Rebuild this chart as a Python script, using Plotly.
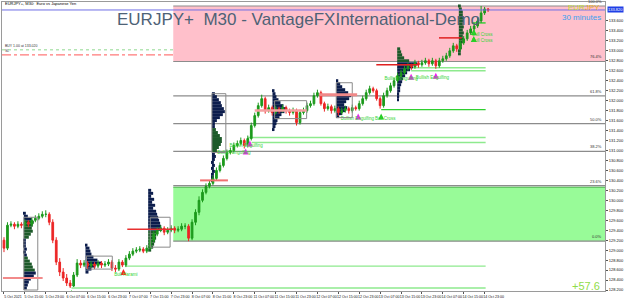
import plotly.graph_objects as go

# ---------------- data ----------------
bar_idx = list(range(140))
opens = [129.20, 129.04, 129.50, 129.52, 129.48, 129.52, 129.50, 129.56, 129.52, 129.60,
         129.64, 129.68, 129.72, 129.72, 129.56, 129.20, 128.76, 128.56, 128.44, 128.34,
         128.28, 128.50, 128.74, 128.70, 128.74, 128.68, 128.72, 128.68, 128.74, 128.70,
         128.72, 128.76, 128.64, 128.62, 128.76, 128.70, 128.84, 128.92, 128.98, 129.00,
         129.02, 128.98, 129.04, 129.20, 129.32, 129.40, 129.44, 129.36, 129.40, 129.44,
         129.40, 129.42, 129.48, 129.48, 129.24, 129.56, 129.76, 130.00, 130.16, 130.28,
         130.34, 130.44, 130.60, 130.70, 130.84, 130.96, 131.00, 131.10, 131.14, 131.20,
         131.10, 131.24, 131.50, 131.70, 131.90, 132.04, 131.80, 131.86, 131.76, 131.84,
         131.80, 131.86, 131.80, 131.76, 131.80, 131.56, 131.76, 131.80, 131.90, 131.94,
         132.10, 132.16, 131.94, 131.84, 131.88, 131.80, 131.84, 131.76, 131.80, 131.84,
         131.80, 131.86, 131.84, 131.94, 132.04, 132.16, 132.24, 132.20, 132.04, 131.90,
         132.10, 132.20, 132.30, 132.40, 132.50, 132.56, 132.64, 132.70, 132.68, 132.76,
         132.72, 132.76, 132.80, 132.74, 132.80, 132.70, 132.80, 132.84, 132.90, 133.00,
         133.10, 133.04, 133.16, 133.24, 133.36, 133.44, 133.50, 133.60, 133.76, 133.84]
highs = [129.26, 129.56, 129.58, 129.56, 129.58, 129.56, 129.62, 129.60, 129.66, 129.70,
         129.74, 129.78, 129.80, 129.76, 129.62, 129.26, 128.84, 128.64, 128.52, 128.40,
         128.56, 128.82, 128.80, 128.80, 128.78, 128.78, 128.76, 128.80, 128.78, 128.78,
         128.82, 128.80, 128.70, 128.82, 128.80, 128.90, 128.98, 129.04, 129.06, 129.08,
         129.06, 129.10, 129.26, 129.38, 129.46, 129.50, 129.48, 129.46, 129.50, 129.48,
         129.48, 129.54, 129.54, 129.52, 129.62, 129.82, 130.08, 130.22, 130.34, 130.40,
         130.50, 130.66, 130.76, 130.90, 131.02, 131.06, 131.16, 131.20, 131.26, 131.24,
         131.30, 131.56, 131.76, 131.96, 132.12, 132.08, 131.92, 131.90, 131.90, 131.88,
         131.92, 131.90, 131.84, 131.86, 131.84, 131.82, 131.86, 131.96, 132.00, 132.16,
         132.22, 132.20, 131.98, 131.94, 131.92, 131.90, 131.88, 131.86, 131.90, 131.88,
         131.92, 131.90, 132.00, 132.10, 132.22, 132.30, 132.28, 132.24, 132.08, 132.16,
         132.26, 132.36, 132.46, 132.56, 132.62, 132.70, 132.76, 132.74, 132.82, 132.80,
         132.82, 132.86, 132.84, 132.86, 132.84, 132.86, 132.90, 132.96, 133.06, 133.16,
         133.14, 133.22, 133.30, 133.42, 133.50, 133.56, 133.66, 133.90, 133.88, 133.86]
lows = [128.96, 129.00, 129.46, 129.42, 129.44, 129.44, 129.46, 129.46, 129.48, 129.56,
        129.60, 129.64, 129.66, 129.50, 129.14, 128.70, 128.48, 128.38, 128.28, 128.24,
        128.26, 128.46, 128.64, 128.66, 128.62, 128.64, 128.62, 128.64, 128.64, 128.66,
        128.68, 128.58, 128.56, 128.58, 128.66, 128.66, 128.80, 128.88, 128.94, 128.96,
        128.94, 128.94, 129.00, 129.16, 129.28, 129.36, 129.30, 129.32, 129.36, 129.34,
        129.36, 129.38, 129.42, 129.18, 129.20, 129.50, 129.70, 129.96, 130.12, 130.24,
        130.30, 130.40, 130.56, 130.66, 130.80, 130.92, 130.96, 131.06, 131.10, 131.04,
        131.06, 131.20, 131.46, 131.66, 131.86, 131.74, 131.76, 131.70, 131.72, 131.74,
        131.76, 131.74, 131.70, 131.72, 131.50, 131.52, 131.72, 131.76, 131.86, 131.90,
        132.06, 131.90, 131.78, 131.80, 131.74, 131.76, 131.70, 131.72, 131.76, 131.74,
        131.76, 131.80, 131.80, 131.90, 132.00, 132.12, 132.16, 132.00, 131.84, 131.86,
        132.06, 132.16, 132.26, 132.36, 132.46, 132.52, 132.60, 132.62, 132.64, 132.66,
        132.68, 132.72, 132.68, 132.70, 132.64, 132.66, 132.76, 132.80, 132.86, 132.96,
        132.98, 133.00, 133.12, 133.20, 133.32, 133.40, 133.46, 133.56, 133.72, 133.78]
closes = [129.04, 129.50, 129.52, 129.48, 129.52, 129.50, 129.56, 129.52, 129.60, 129.64,
          129.68, 129.72, 129.72, 129.56, 129.20, 128.76, 128.56, 128.44, 128.34, 128.28,
          128.50, 128.74, 128.70, 128.74, 128.68, 128.72, 128.68, 128.74, 128.70, 128.72,
          128.76, 128.64, 128.62, 128.76, 128.70, 128.84, 128.92, 128.98, 129.00, 129.02,
          128.98, 129.04, 129.20, 129.32, 129.40, 129.44, 129.36, 129.40, 129.44, 129.40,
          129.42, 129.48, 129.48, 129.24, 129.56, 129.76, 130.00, 130.16, 130.28, 130.34,
          130.44, 130.60, 130.70, 130.84, 130.96, 131.00, 131.10, 131.14, 131.20, 131.10,
          131.24, 131.50, 131.70, 131.90, 132.04, 131.80, 131.86, 131.76, 131.84, 131.80,
          131.86, 131.80, 131.76, 131.80, 131.56, 131.76, 131.80, 131.90, 131.94, 132.10,
          132.16, 131.94, 131.84, 131.88, 131.80, 131.84, 131.76, 131.80, 131.84, 131.80,
          131.86, 131.84, 131.94, 132.04, 132.16, 132.24, 132.20, 132.04, 131.90, 132.10,
          132.20, 132.30, 132.40, 132.50, 132.56, 132.64, 132.70, 132.68, 132.76, 132.72,
          132.76, 132.80, 132.74, 132.80, 132.70, 132.80, 132.84, 132.90, 133.00, 133.10,
          133.04, 133.16, 133.24, 133.36, 133.44, 133.50, 133.60, 133.76, 133.84, 133.82]

time_tick_idx = [0, 6, 12, 18, 24, 30, 36, 42, 48, 54, 60, 66, 72, 78, 84, 90, 96, 102,
                 108, 114, 120, 126, 132, 138]
time_tick_text = ["5 Oct 2021", "5 Oct 15:00", "5 Oct 23:00", "6 Oct 07:00", "6 Oct 15:00",
                  "6 Oct 23:00", "7 Oct 07:00", "7 Oct 15:00", "7 Oct 23:00", "8 Oct 07:00",
                  "8 Oct 15:00", "8 Oct 23:00", "11 Oct 07:00", "11 Oct 15:00", "11 Oct 23:00",
                  "12 Oct 07:00", "12 Oct 15:00", "12 Oct 23:00", "13 Oct 07:00", "13 Oct 15:00",
                  "13 Oct 23:00", "14 Oct 07:00", "14 Oct 15:00", "14 Oct 23:00"]
price_ticks = [128.2, 128.4, 128.6, 128.8, 129.0, 129.2, 129.4, 129.6, 129.8, 130.0,
               130.2, 130.4, 130.6, 130.8, 131.0, 131.2, 131.4, 131.6, 131.8, 132.0,
               132.2, 132.4, 132.6, 132.8, 133.0, 133.2, 133.4, 133.6]
current_price = 133.82
buy_price = 133.02
sl_price = 132.92

# Fibonacci retracement anchors
fib_low = 129.18
fib_high = 133.90
fib_ratios = [0.0, 0.236, 0.382, 0.5, 0.618, 0.764, 1.0]
fib_labels = ["0.0%", "23.6%", "38.2%", "50.0%", "61.8%", "76.4%", "100.0%"]
fib_start = 48.6

# value-area boxes: x0, x1, y_low, y_high
box_x0 = [5.7, 23.7, 42.0, 59.7, 77.7, 95.4]
box_x1 = [9.7, 31.1, 47.7, 63.7, 86.9, 100.0]
box_lo = [128.20, 128.62, 129.06, 130.96, 131.64, 131.66]
box_hi = [129.66, 128.88, 129.66, 132.14, 132.00, 132.36]

# POC lines: x0, x1, price
poc_x0 = [-0.3, 35.4, 56.3, 72.0, 90.6, 106.9, 124.9]
poc_x1 = [11.1, 48.6, 64.3, 86.9, 101.4, 119.1, 131.4]
poc_y = [128.44, 129.42, 130.40, 131.80, 132.12, 132.72, 133.26]

# pattern support lines
sup_x0 = [19.4, 34.9, 70.0, 71.1, 108.3, 112.9, 116.9, 134.3]
sup_end = 138.3
sup_y = [128.24, 128.68, 131.26, 131.16, 131.82, 132.66, 132.60, 133.56]
sup_strong = [False, False, False, False, True, False, False, True]

# volume profiles (base bar index, top price, volumes, green flags)
prof_base = [5.7, 23.4, 41.4, 59.7, 77.1, 95.4, 112.9, 130.6]
prof_top = [129.74, 129.10, 130.20, 132.14, 132.20, 132.40, 133.04, 133.90]
prof_A = [2, 4, 8, 10, 9, 8, 9, 7, 5, 2, 2, 2, 3, 2, 3, 4, 6, 8, 9, 11, 12, 10, 7, 5, 4, 3]
prof_B = [2, 4, 5, 6, 8, 12, 16, 10, 6, 3]
prof_C = [3, 5, 3, 6, 4, 7, 5, 8, 9, 10, 11, 12, 13, 14, 10, 8, 8, 7, 6, 5, 3]
prof_D = [3, 5, 7, 9, 10, 12, 13, 11, 8, 5, 3, 3, 4, 6, 8, 10, 10, 9, 7, 5, 3, 4, 3, 2, 3, 2, 3, 2, 2, 1]
prof_E = [2, 3, 4, 6, 8, 11, 14, 12, 9, 7, 5, 4, 3, 2]
prof_F = [2, 4, 6, 9, 12, 15, 13, 10, 8, 11, 9, 6, 3]
prof_G = [3, 4, 5, 7, 12, 20, 16, 13, 10, 8, 6, 5, 4, 3, 3, 2, 2, 1]
prof_H = [2, 3, 4, 4, 5, 5, 4, 5, 4, 5, 4, 5, 4, 3, 3, 2, 2]
prof_vols = [prof_A, prof_B, prof_C, prof_D, prof_E, prof_F, prof_G, prof_H]
prof_green = [list(range(3, 9)) + list(range(15, 20)), [], list(range(14, 21)),
              list(range(12, 20)), [], [], list(range(0, 5)), list(range(0, 17))]
prof_step = 0.06

# pattern signals
sig_x = [19.4, 34.3, 69.4, 70.6, 101.7, 108.3, 116.9, 124.0, 134.9, 134.9]
sig_y = [128.20, 128.62, 131.04, 131.20, 131.74, 131.74, 132.54, 132.56, 133.44, 133.30]
sig_col = ["#22cc22", "#ff2222", "#ee22ee", "#ee22ee", "#ee22ee", "#22cc22", "#ee22ee",
           "#ee22ee", "#22cc22", "#22cc22"]
lab_x = [35.0, 69.5, 66.0, 101.5, 109.5, 114.0, 123.0, 137.3, 137.3]
lab_y = [128.51, 131.10, 130.96, 131.63, 131.63, 132.44, 132.45, 133.33, 133.19]
lab_text = ["Bull Harami", "Bullish Engulfing", "Bullish Engulfing", "Bullish Engulfing",
            "Bull Cross", "Bullish Engulfing", "Bullish Engulfing", "Bull Cross", "Bull Cross"]

# ---------------- figure ----------------
X_MIN, X_MAX = -0.571, 172.571
Y_MIN, Y_MAX = 128.18, 133.98
VOL_SCALE = 1 / 3.5
FONT = "Liberation Sans"

fig = go.Figure()
shapes = []

# zones
fib_levels = [fib_low + r * (fib_high - fib_low) for r in fib_ratios]
shapes.append(dict(type="rect", xref="x", yref="y", x0=fib_start, x1=X_MAX,
                   y0=fib_levels[5], y1=fib_levels[6], fillcolor="#ffc0cb",
                   line=dict(width=0), layer="below"))
shapes.append(dict(type="rect", xref="x", yref="y", x0=fib_start, x1=X_MAX,
                   y0=fib_levels[0], y1=fib_levels[1] - 0.03, fillcolor="#98fb98",
                   line=dict(width=0), layer="below"))
shapes.append(dict(type="line", xref="x", yref="y", x0=fib_start, x1=X_MAX,
                   y0=fib_levels[1] - 0.03, y1=fib_levels[1] - 0.03,
                   line=dict(color="#3fae3f", width=1), layer="below"))
for lv in fib_levels:
    shapes.append(dict(type="line", xref="x", yref="y", x0=fib_start, x1=X_MAX, y0=lv, y1=lv,
                       line=dict(color="#8c8c8c", width=1.2), layer="below"))

# full width lines
shapes.append(dict(type="line", xref="paper", yref="y", x0=0, x1=1, y0=current_price,
                   y1=current_price, line=dict(color="#6f6fe6", width=1)))
shapes.append(dict(type="line", xref="paper", yref="y", x0=0, x1=1, y0=buy_price,
                   y1=buy_price, line=dict(color="#8fd88f", width=1, dash="dot"), layer="below"))
shapes.append(dict(type="line", xref="paper", yref="y", x0=0, x1=1, y0=sl_price,
                   y1=sl_price, line=dict(color="#ff7a7a", width=1.2, dash="dashdot"), layer="below"))

# support lines
for x0, y, strong in zip(sup_x0, sup_y, sup_strong):
    shapes.append(dict(type="line", xref="x", yref="y", x0=x0, x1=sup_end, y0=y, y1=y,
                       line=dict(color="#2fcf2f" if strong else "#8eea8e", width=1.4),
                       layer="below"))

# boxes
for x0, x1, lo, hi in zip(box_x0, box_x1, box_lo, box_hi):
    shapes.append(dict(type="rect", xref="x", yref="y", x0=x0, x1=x1, y0=lo, y1=hi,
                       line=dict(color="#8a8a8a", width=1), fillcolor="rgba(0,0,0,0)"))

# POC lines
poc_colors = ["#f28a8a", "#e83030", "#f07070", "#f4a0a0", "#f08888", "#e02020", "#e02020"]
poc_widths = [2, 1.5, 2, 2.5, 3, 1.5, 1.5]
for x0, x1, y, c, w in zip(poc_x0, poc_x1, poc_y, poc_colors, poc_widths):
    shapes.append(dict(type="line", xref="x", yref="y", x0=x0, x1=x1, y0=y, y1=y,
                       line=dict(color=c, width=w)))

# candles
fig.add_trace(go.Candlestick(
    x=bar_idx, open=opens, high=highs, low=lows, close=closes,
    increasing=dict(line=dict(color="#1c9a1c", width=1), fillcolor="#1c9a1c"),
    decreasing=dict(line=dict(color="#ec2626", width=1), fillcolor="#ec2626"),
    whiskerwidth=0, showlegend=False, hoverinfo="skip"))

# volume profiles
for base, top, vols, greens in zip(prof_base, prof_top, prof_vols, prof_green):
    levels = [top - k * prof_step for k in range(len(vols))]
    cols = ["#1d5a2a" if k in greens else "#0c1d4c" for k in range(len(vols))]
    fig.add_trace(go.Bar(orientation="h", y=levels, x=[v * VOL_SCALE for v in vols],
                         base=base, width=prof_step, marker=dict(color=cols, line=dict(width=0)),
                         showlegend=False, hoverinfo="skip"))

# signals
fig.add_trace(go.Scatter(x=sig_x, y=sig_y, mode="markers",
                         marker=dict(symbol="arrow-up", size=6, color=sig_col,
                                     line=dict(width=0)),
                         showlegend=False, hoverinfo="skip"))
fig.add_trace(go.Scatter(x=lab_x, y=lab_y, mode="text", text=lab_text,
                         textfont=dict(size=4.5, color="#33d433", family=FONT),
                         showlegend=False, hoverinfo="skip"))

annotations = []
for lv, lab in zip(fib_levels, fib_labels):
    annotations.append(dict(x=X_MAX - 0.3, y=lv, xref="x", yref="y", text=lab, showarrow=False,
                            xanchor="right", yanchor="bottom", font=dict(size=4, color="#333333",
                                                                          family=FONT)))

def px_x(p):
    return (p - 1) / 606

def px_y(p):
    return (291 - p) / 290

annotations += [
    dict(x=px_x(115), y=px_y(19), xref="paper", yref="paper", xanchor="left", yanchor="middle",
         text="EURJPY+\u00a0\u00a0M30 - VantageFXInternational-Demo", showarrow=False,
         font=dict(size=17, color="#4e6276", family=FONT)),
    dict(x=px_x(604), y=px_y(7), xref="paper", yref="paper", xanchor="right", yanchor="middle",
         text="<span style='color:#c3dd35'>EUR</span><span style='color:#f2ae2a'>JPY</span>",
         showarrow=False, font=dict(size=8, family=FONT)),
    dict(x=px_x(605), y=px_y(17), xref="paper", yref="paper", xanchor="right", yanchor="middle",
         text="30 minutes", showarrow=False, font=dict(size=8, color="#3aa0f0", family=FONT)),
    dict(x=px_x(604), y=px_y(286), xref="paper", yref="paper", xanchor="right", yanchor="middle",
         text="+57.6", showarrow=False, font=dict(size=11, color="#8fdc4a", family=FONT)),
    dict(x=px_x(2), y=px_y(3), xref="paper", yref="paper", xanchor="left", yanchor="middle",
         text="EURJPY+, M30:  Euro vs Japanese Yen", showarrow=False,
         font=dict(size=4, color="#000000", family=FONT)),
    dict(x=px_x(2), y=buy_price, xref="paper", yref="y", xanchor="left", yanchor="bottom",
         text="BUY 1.00 at 133.020", showarrow=False, font=dict(size=3.5, color="#333333", family=FONT)),
    dict(x=px_x(2), y=sl_price, xref="paper", yref="y", xanchor="left", yanchor="bottom",
         text="SL", showarrow=False, font=dict(size=3.5, color="#333333", family=FONT)),
    dict(x=1.0, y=current_price, xref="paper", yref="y", xanchor="left", yanchor="middle",
         text=f"{current_price:.3f}", showarrow=False, bgcolor="#1f3fe6", borderpad=0,
         xshift=2, font=dict(size=4, color="#ffffff", family=FONT)),
]

fig.update_layout(
    width=625, height=300, margin=dict(l=1, r=18, t=1, b=9),
    paper_bgcolor="white", plot_bgcolor="white", barmode="overlay",
    shapes=shapes, annotations=annotations, showlegend=False,
    xaxis=dict(range=[X_MIN, X_MAX], rangeslider=dict(visible=False), showgrid=False,
               zeroline=False, showline=True, linecolor="#9a9a9a", linewidth=1, mirror=True,
               tickmode="array", tickvals=time_tick_idx, ticktext=time_tick_text,
               ticks="outside", ticklen=2, tickcolor="#555555", tickangle=0,
               tickfont=dict(size=3.6, color="#111111", family=FONT), ticklabelshift=9),
    yaxis=dict(range=[Y_MIN, Y_MAX], side="right", showgrid=False, zeroline=False,
               showline=True, linecolor="#9a9a9a", linewidth=1, mirror=True,
               tickmode="array", tickvals=price_ticks,
               ticktext=[f"{v:.3f}" for v in price_ticks], ticks="outside", ticklen=2,
               tickcolor="#555555", tickfont=dict(size=4, color="#111111", family=FONT)),
)

fig.write_html("out.html")
